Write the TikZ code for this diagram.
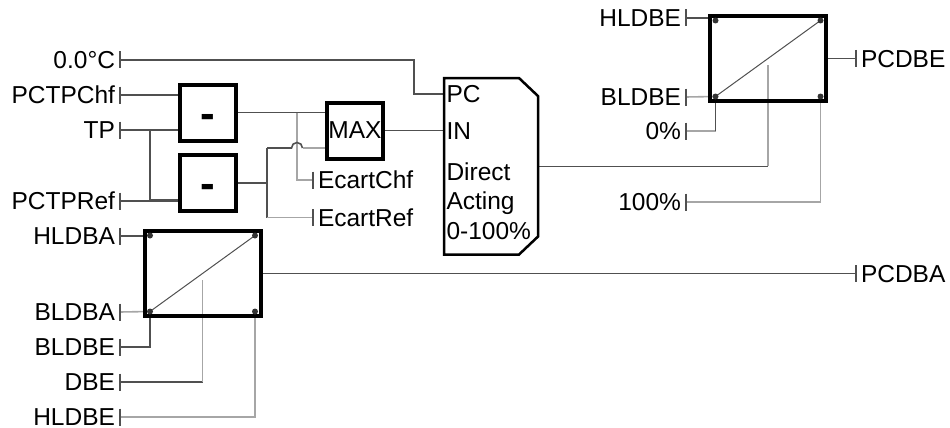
\documentclass[tikz,border=0pt]{standalone}
\usepackage{fontspec}
\setmainfont{Liberation Sans}
\usetikzlibrary{positioning,backgrounds}

\definecolor{wiredark}{HTML}{505050}
\definecolor{wirelight}{HTML}{A6A6A6}
\definecolor{dotgray}{HTML}{333333}

\tikzset{
  lbl/.style={font=\fontsize{24.5}{29.5}\selectfont, inner sep=0pt, outer sep=0pt},
  pinmark/.style={draw=wiredark, line width=1.3pt},
  wire/.style={draw=wiredark, line width=1.6pt},
  wirel/.style={draw=wirelight, line width=1.6pt},
  opbox/.style={lbl, draw=black, line width=4pt, minimum width=56pt, minimum height=56pt},
  scalebox/.style={draw=black, line width=4pt, minimum width=116pt, minimum height=85pt, inner sep=0pt},
  minussign/.style={font=\fontsize{44}{44}\bfseries\selectfont, inner sep=0pt},
  ramp/.style={draw=wiredark, line width=1pt},
  pidline/.style={draw=black, line width=2.5pt, line join=miter},
}

\begin{document}
\begin{tikzpicture}[x=1pt,y=-1pt]
    \useasboundingbox (0,0) rectangle (950,428);

    % left inputs
    \foreach \n/\y/\t in {zero/60/0.0°C, chf/95/PCTPChf, tp/130/TP, ref/201/PCTPRef,
        hlba/236/HLDBA, blba/312/BLDBA, blbe/347/BLDBE, dbe/382/DBE, hlbe/417/HLDBE}{
        \coordinate (p\n) at (120,\y);
        \node[lbl, anchor=base east] (l\n) at ([xshift=-5pt, yshift=-8.8pt]p\n) {\t};
        \draw[pinmark] ([yshift=8.5pt]p\n) -- ([yshift=-8.5pt]p\n);
    }
    % inputs of the upper scaling
    \foreach \n/\y/\t in {hlbe2/18/HLDBE, blbe2/97/BLDBE, zerop/131/0\%, fullp/202/100\%}{
        \coordinate (p\n) at (686,\y);
        \node[lbl, anchor=base east] (l\n) at ([xshift=-5pt, yshift=-8.8pt]p\n) {\t};
        \draw[pinmark] ([yshift=8.5pt]p\n) -- ([yshift=-8.5pt]p\n);
    }
    % outputs
    \foreach \n/\x/\y/\t in {pcdbe/856/58.5/PCDBE, pcdba/856/273.5/PCDBA,
        echf/313/180/EcartChf, eref/313/217.5/EcartRef}{
        \coordinate (p\n) at (\x,\y);
        \node[lbl, anchor=base west] (l\n) at ([xshift=5pt, yshift=-8.8pt]p\n) {\t};
        \draw[pinmark] ([yshift=8.5pt]p\n) -- ([yshift=-8.5pt]p\n);
    }

    % blocks
    \node[opbox] (subChf) at (208,112.5) {};
    \node[opbox] (subRef) at (208,183) {};
    \node[minussign] (mChf) at ([yshift=-8.8pt]subChf.center) {-};
    \node[minussign] (mRef) at ([yshift=-8.8pt]subRef.center) {-};
    \node[opbox] (max) at (355,130.5) {MAX};
    \node[scalebox] (scaleBE) at (768,58.5) {};
    \node[scalebox] (scaleBA) at (202.5,273.5) {};

    % PID block
    \node[minimum width=94pt, minimum height=176.5pt, inner sep=0pt, outer sep=0pt] (pid) at (491,166.3) {};
    \draw[pidline] (pid.north west) -- ([xshift=-19pt]pid.north east) -- ([yshift=-18pt]pid.north east)
        -- ([yshift=18pt]pid.south east) -- ([xshift=-19pt]pid.south east) -- (pid.south west) -- cycle;
    \coordinate (pidpc) at (444,94);
    \coordinate (pidin) at (444,130.5);
    \node[lbl, anchor=base west] (tPC) at (446.5,102.8) {PC};
    \node[lbl, anchor=base west] (tIN) at (446.5,139.5) {IN};
    \node[lbl, anchor=base west] (tDir) at (446.5,180.5) {Direct};
    \node[lbl, anchor=base west] (tAct) at (446.5,209.8) {Acting};
    \node[lbl, anchor=base west] (tRng) at (446.5,239.8) {0-100\%};

    % corner dots and ramps
    \foreach \b in {BE,BA}{
        \coordinate (\b-tl) at ([shift={(-52.5,-38)}]scale\b.center);
        \coordinate (\b-tr) at ([shift={(52.5,-38)}]scale\b.center);
        \coordinate (\b-bl) at ([shift={(-52.5,38)}]scale\b.center);
        \coordinate (\b-br) at ([shift={(52.5,38)}]scale\b.center);
        \draw[ramp] (\b-bl) -- (\b-tr);
        \foreach \c in {tl,tr,bl,br} \fill[dotgray] (\b-\c) circle (3pt);
    }

    \begin{scope}[on background layer]
        % differences and max
        \draw[wire] (pzero) -- (414,60) |- (pidpc);
        \draw[wire] (pchf) -- (pchf -| subChf.west);
        \draw[wire] (ptp) -- (ptp -| subChf.west);
        \draw[wire] (150,130) |- ([yshift=-17pt]subRef.west);
        \draw[wire] (pref) -- (pref -| subRef.west);
        \draw[wire] (subChf.east) -- (subChf.east -| max.west);
        \draw[wirel] (297,112.5) |- (pechf);
        \draw[wire] (subRef.east) -- (267,183);
        \draw[wire] (267,148) -- (267,217.5);
        \draw[wire] (267,148) -- (291.5,148) arc[start angle=180, end angle=0, radius=5.5pt];
        \draw[wirel] (302.5,148) -- ([yshift=-17.5pt]max.west);
        \draw[wirel] (267,217.5) -- (peref);
        \draw[wire] (max.east) -- (pidin);
        % PID output
        \draw[wire] (pid.east) -- (768,166.3);
        \draw[wirel] (768,166.3) -- ([yshift=-6.5pt]scaleBE.center);
        % upper scaling
        \draw[wire] (phlbe2) -- (phlbe2 -| scaleBE.west);
        \draw[wirel] (pblbe2) -- (BE-bl);
        \draw[wirel] (pzerop) -- (pzerop -| BE-bl);
        \draw[wire] (pzerop -| BE-bl) -- (BE-bl);
        \draw[wirel] (pfullp) -| (BE-br);
        \draw[wire] (scaleBE.east) -- (ppcdbe);
        % lower scaling
        \draw[wire] (phlba) -- (phlba -| scaleBA.west);
        \draw[wirel] (pblba) -- (BA-bl);
        \draw[wire] (pblbe) -| (BA-bl);
        \draw[wire] (pdbe) -- (pdbe -| scaleBA.center);
        \draw[wirel] (pdbe -| scaleBA.center) -- ([yshift=-6.5pt]scaleBA.center);
        \draw[wirel] (phlbe) -| (BA-br);
        \draw[wire] (scaleBA.east) -- (ppcdba);
    \end{scope}
\end{tikzpicture}
\end{document}
